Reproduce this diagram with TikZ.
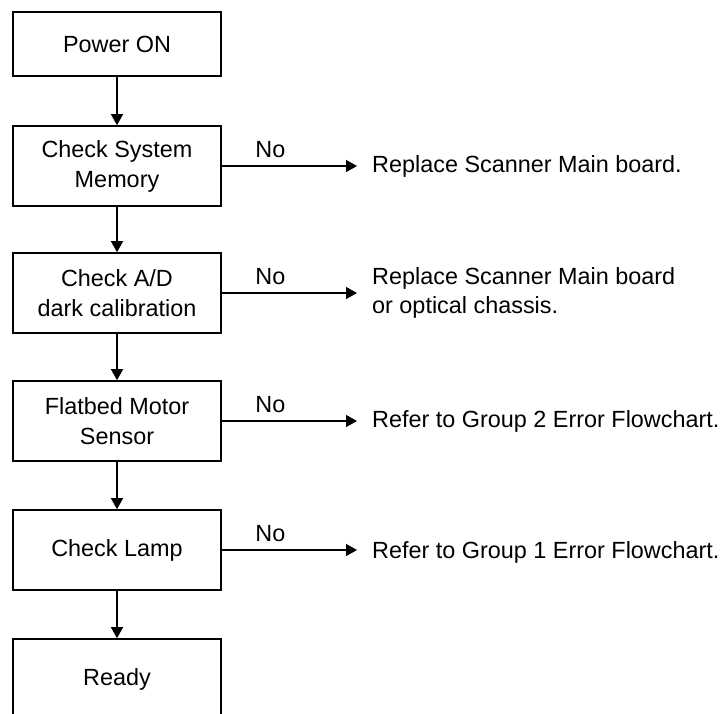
\documentclass[tikz,border=0pt]{standalone}
\usepackage{fontspec}
\setmainfont{Liberation Sans}
\usetikzlibrary{arrows.meta}
\begin{document}
\begin{tikzpicture}[x=1pt,y=-1pt,
  txt/.style={font=\fontsize{23.4}{29}\selectfont, inner sep=0pt},
  stepbox/.style={draw, line width=1.6pt, minimum width=208pt, minimum height=80pt,
    align=center, font=\fontsize{23.4}{30}\selectfont, inner sep=0pt},
  flow/.style={line width=1.3pt, -{Triangle[length=11pt,width=12pt]}},
  nolabel/.style={txt, anchor=south, yshift=8pt}]
\useasboundingbox (0,0) rectangle (728,713);
\clip (0,0) rectangle (728,713);
\fill[white] (0,0) rectangle (728,713);

% main column
\node[stepbox, minimum height=64pt] (power) at (117,44) {Power ON};
\node[stepbox] (mem)   at (117,166) {Check System\\Memory};
\node[stepbox] (ad)    at (117,293) {Check A/D\\dark calibration};
\node[stepbox] (motor) at (117,421) {Flatbed Motor\\Sensor};
\node[stepbox] (lamp)  at (117,550) {Check Lamp};
\node[stepbox] (ready) at (117,679) {Ready};

\draw[flow] (power) -- (mem);
\draw[flow] (mem) -- (ad);
\draw[flow] (ad) -- (motor);
\draw[flow] (motor) -- (lamp);
\draw[flow] (lamp) -- (ready);

% failure branches
\coordinate (e1) at (357,166);
\coordinate (e2) at (357,293);
\coordinate (e3) at (357,421);
\coordinate (e4) at (357,550);

\node[txt, anchor=west] (r1) at (372,166) {Replace Scanner Main board.};
\node[txt, anchor=west, align=left] (r2) at (372,293) {Replace Scanner Main board\\or optical chassis.};
\node[txt, anchor=west] (r3) at (372,421) {Refer to Group 2 Error Flowchart.};
\node[txt, anchor=west] (r4) at (372,552) {Refer to Group 1 Error Flowchart.};

\draw[flow] (mem.east) -- node[nolabel, xshift=-19pt] (n1) {No} (e1);
\draw[flow] (ad.east) -- node[nolabel, xshift=-19pt] (n2) {No} (e2);
\draw[flow] (motor.east) -- node[nolabel, xshift=-19pt] (n3) {No} (e3);
\draw[flow] (lamp.east) -- node[nolabel, xshift=-19pt] (n4) {No} (e4);
\end{tikzpicture}
\end{document}
